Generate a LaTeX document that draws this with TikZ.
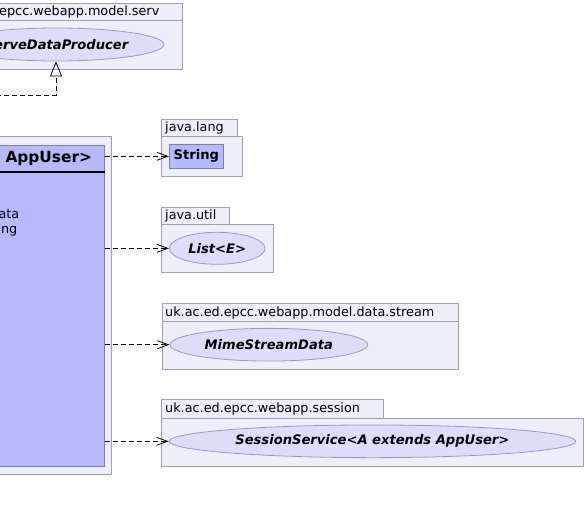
\documentclass[tikz,border=0pt]{standalone}
\usepackage{fontspec}
\setmainfont{DejaVu Sans}[BoldFont={DejaVu Sans Bold},ItalicFont={DejaVu Sans Oblique},BoldItalicFont={DejaVu Sans Bold Oblique}]
\usetikzlibrary{arrows.meta,shapes.geometric}
\definecolor{pkgfill}{HTML}{EEEEFB}
\definecolor{pkgdraw}{HTML}{9E9EB0}
\definecolor{clsfill}{HTML}{B8B9FC}
\definecolor{clsdraw}{HTML}{7E7E9E}
\definecolor{ellfill}{HTML}{DDDDF9}
\definecolor{elldraw}{HTML}{9A9AB6}
\begin{document}
\begin{tikzpicture}[x=1pt,y=-1pt,
  pkgbox/.style={draw=pkgdraw, fill=pkgfill, line width=0.8pt, rectangle, inner sep=0pt, anchor=north west},
  pkglabel/.style={font=\fontsize{12.8}{15}\selectfont, anchor=west, inner sep=0pt},
  clsbox/.style={draw=clsdraw, fill=clsfill, line width=0.8pt, rectangle, inner sep=0pt},
  iface/.style={ellipse, draw=elldraw, fill=ellfill, line width=0.8pt, inner sep=0pt, font=\fontsize{13.1}{15}\selectfont\bfseries\itshape},
  dep/.style={draw=black, line width=0.8pt, dash pattern=on 5pt off 3pt, -{Straight Barb[length=11pt,width=8pt]}},
  gen/.style={draw=black, line width=0.8pt, dash pattern=on 5pt off 3pt, -{Triangle[open,length=15pt,width=12pt]}}]
\fill[white] (0,0) rectangle (586,512);
\path[use as bounding box] (0,0) rectangle (586,512);
\clip (0,0) rectangle (586,512);

% top package
\node[pkgbox, minimum width=241.7pt, minimum height=17pt] (servtab) at (-60,3) {};
\node[pkgbox, minimum width=241.7pt, minimum height=49pt] (servbody) at (-60,20) {};
\node[pkglabel, anchor=east] (servlab) at (159.5,12) {uk.ac.ed.epcc.webapp.model.serv};
\node[iface, minimum width=215pt, minimum height=33pt] (prod) at (56.5,44.5) {ServeDataProducer};

% java.lang
\node[pkgbox, minimum width=76.3pt, minimum height=16.4pt] (langtab) at (161,119.3) {};
\node[pkgbox, minimum width=80.7pt, minimum height=40pt] (langbody) at (161,135.7) {};
\node[pkglabel] (langlab) at (165,128) {java.lang};
\node[clsbox, minimum width=54pt, minimum height=24pt, font=\fontsize{13.1}{15}\selectfont\bfseries] (str) at (196.3,156.3) {String};

% java.util
\node[pkgbox, minimum width=68.3pt, minimum height=17.6pt] (utiltab) at (161,206.7) {};
\node[pkgbox, minimum width=111.7pt, minimum height=48pt] (utilbody) at (161,224.3) {};
\node[pkglabel] (utillab) at (165,216) {java.util};
\node[iface, minimum width=95.7pt, minimum height=32pt] (list) at (217.2,248.3) {List<E>};

% data.stream
\node[pkgbox, minimum width=296.6pt, minimum height=18.3pt] (streamtab) at (161.7,302.7) {};
\node[pkgbox, minimum width=296.6pt, minimum height=48pt] (streambody) at (161.7,321) {};
\node[pkglabel] (streamlab) at (165,312.5) {uk.ac.ed.epcc.webapp.model.data.stream};
\node[iface, minimum width=197.7pt, minimum height=32.7pt] (mime) at (268.8,344.7) {MimeStreamData};

% session
\node[pkgbox, minimum width=221.7pt, minimum height=18.4pt] (sesstab) at (161,399.3) {};
\node[pkgbox, minimum width=421.7pt, minimum height=48.3pt] (sessbody) at (161,417.7) {};
\node[pkglabel] (sesslab) at (165,409) {uk.ac.ed.epcc.webapp.session};
\node[iface, minimum width=406.7pt, minimum height=32.7pt] (sess) at (372.4,441.3) {SessionService<A extends AppUser>};

% main class
\node[pkgbox, minimum width=311pt, minimum height=338.3pt] (mainpkg) at (-200,136) {};
\node[clsbox, anchor=north west, minimum width=303.7pt, minimum height=321pt] (cls) at (-200,145) {};
\draw[line width=2pt] ([yshift=-26.7pt]cls.north west) -- ([yshift=-26.7pt]cls.north east);
\node[anchor=east, inner sep=0pt, font=\fontsize{15.4}{18}\selectfont\bfseries] (hdr) at (92.3,158.5) {ServeDataProducer<A extends AppUser>};
\node[anchor=east, inner sep=0pt, font=\fontsize{12.8}{15}\selectfont] (att1) at (19.5,213.5) {- data : MimeStreamData};
\node[anchor=east, inner sep=0pt, font=\fontsize{12.8}{15}\selectfont] (att2) at (17.5,229.5) {- name : String};

% connectors
\coordinate (gfree) at (-20,95);
\coordinate (gturn) at (56,95);
\draw[gen] (gfree) -- (gturn) -- (gturn |- prod.south);
\draw[dep] (str.west -| cls.east) -- (str.west);
\draw[dep] (list.west -| cls.east) -- (list.west);
\draw[dep] (mime.west -| cls.east) -- (mime.west);
\draw[dep] (sess.west -| cls.east) -- (sess.west);
\end{tikzpicture}
\end{document}
